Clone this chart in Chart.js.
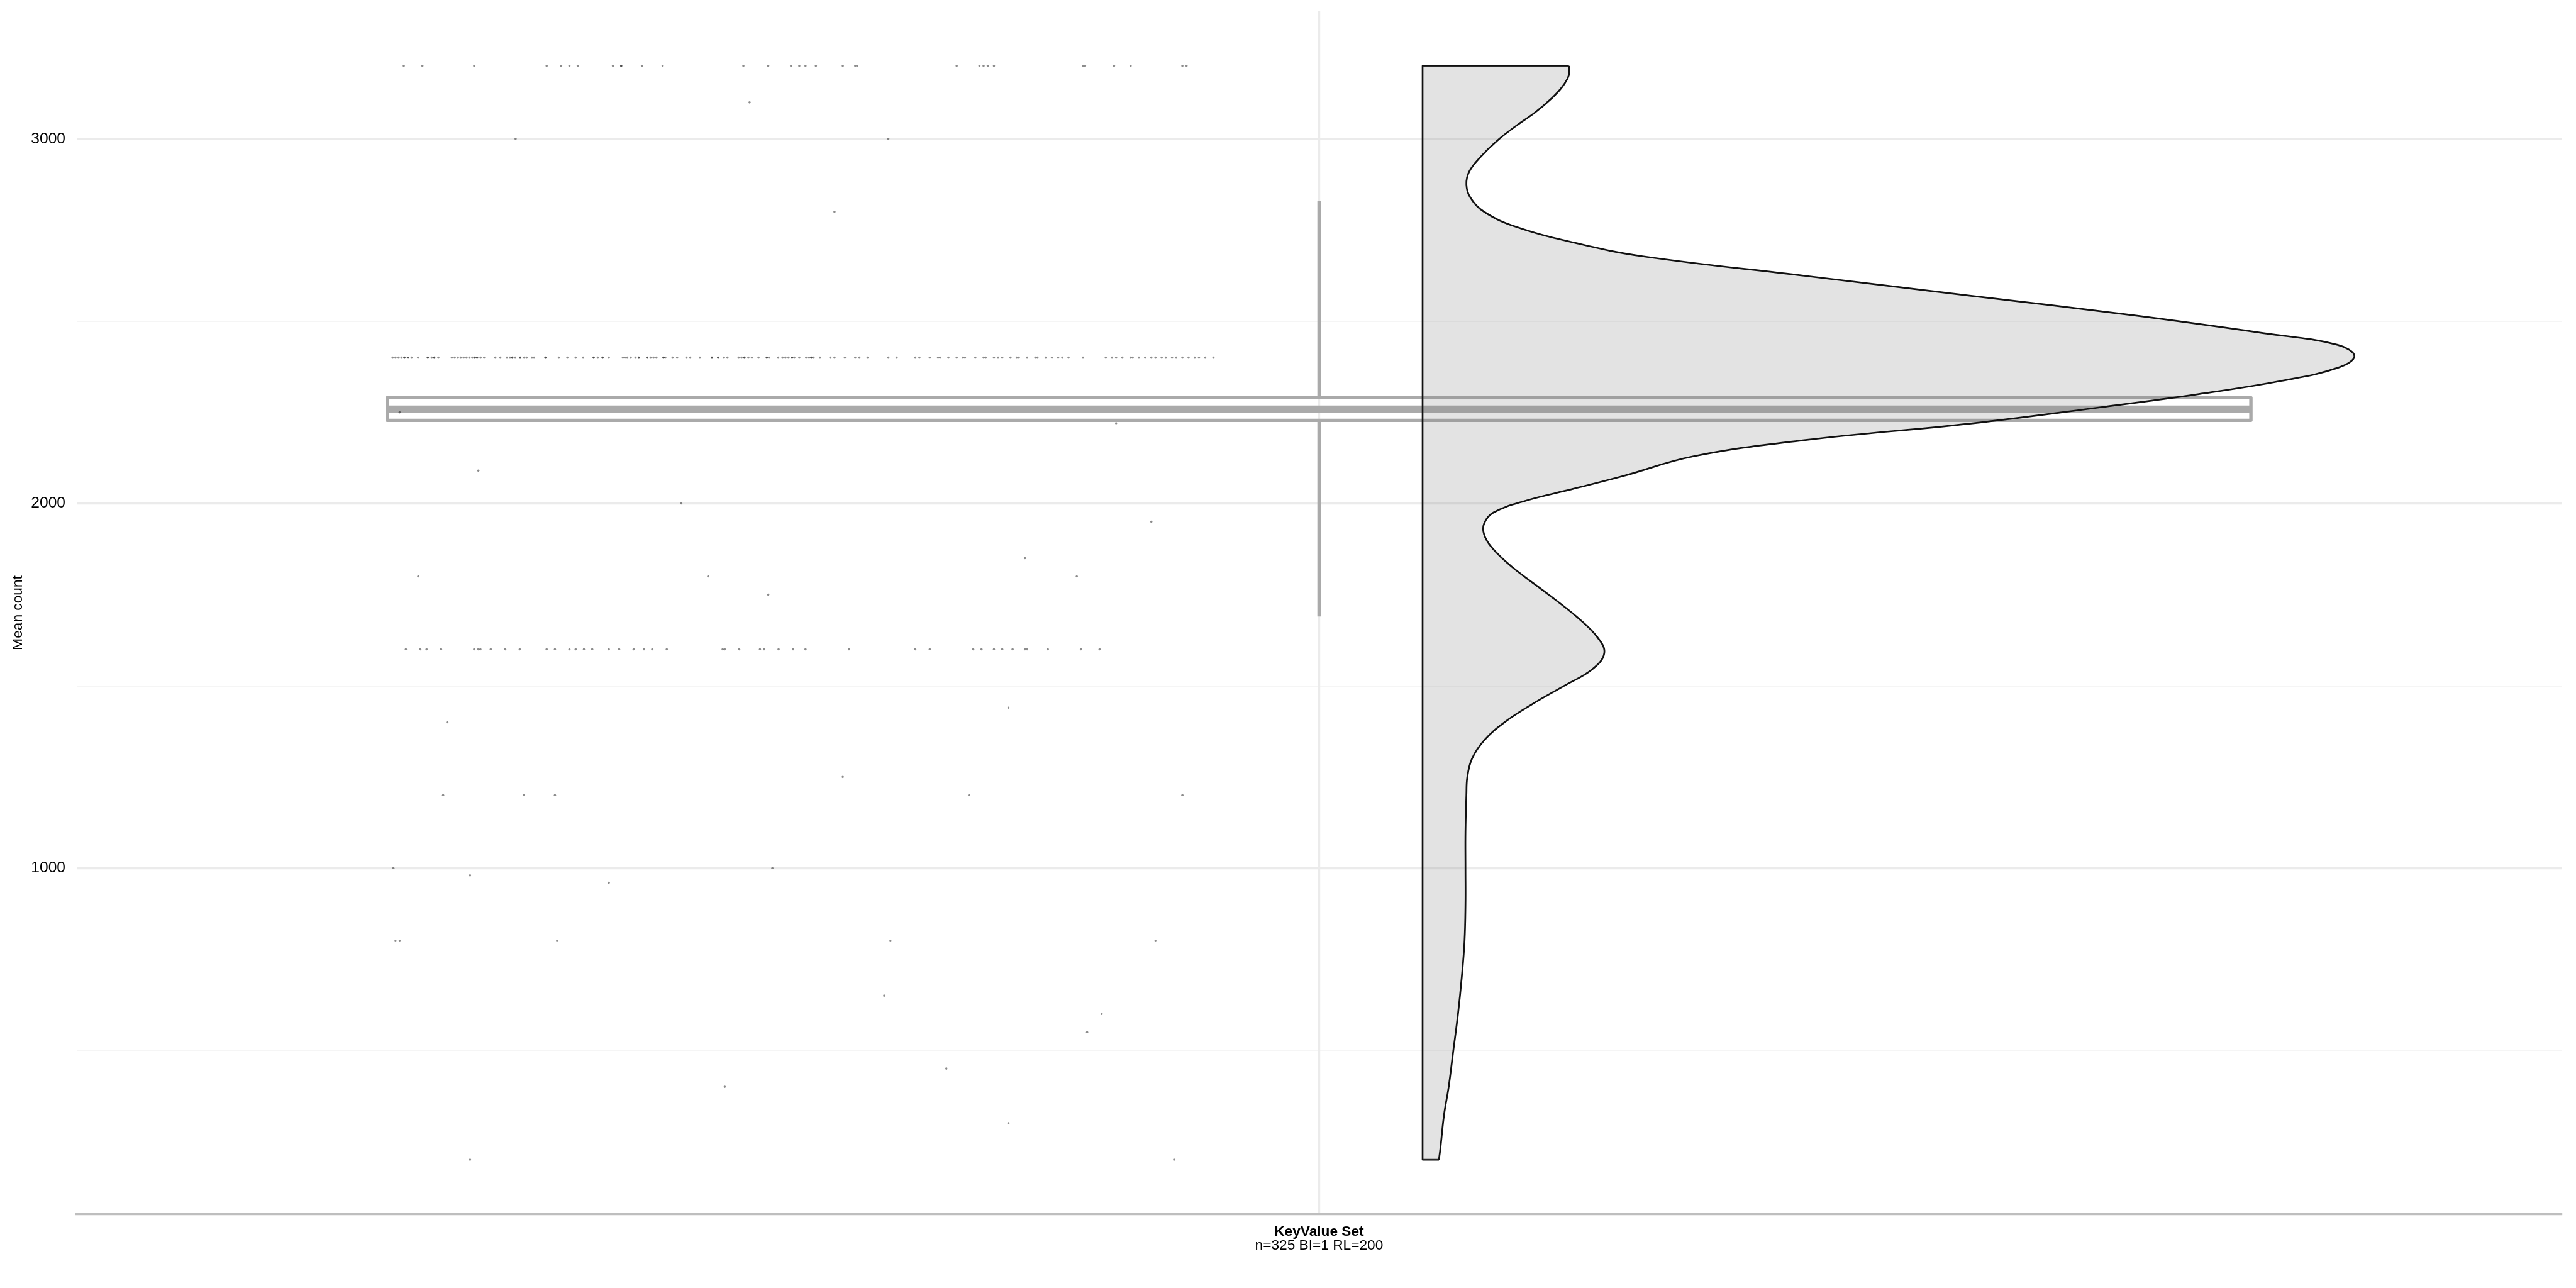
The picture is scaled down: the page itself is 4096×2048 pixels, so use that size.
<!DOCTYPE html>
<html>
<head>
<meta charset="utf-8">
<style>
  html, body { margin: 0; padding: 0; background: #ffffff; overflow: hidden; }
  canvas { display: block; }
</style>
<script src="https://cdn.jsdelivr.net/npm/chart.js@4.4.1/dist/chart.umd.min.js"></script>
</head>
<body>
<canvas id="chart" width="4096" height="2048"></canvas>
<script>
// ---------- data ----------
const categoryLabel = 'KeyValue Set';
const categorySubtitle = 'n=325 BI=1 RL=200';
const yAxisTitle = 'Mean count';
const yTickValues = [500, 1000, 1500, 2000, 2500, 3000];
const yTickLabels = ['', '1000', '', '2000', '', '3000'];

// jittered raw points (x = jitter position on the category axis)
const row3200X = [0.558,0.567,0.592,0.627,0.634,0.638,0.642,0.659,0.663,0.663,0.673,0.683,0.722,0.734,0.745,0.749,0.752,0.757,0.770,0.776,0.777,0.825,0.836,0.838,0.840,0.843,0.886,0.887,0.901,0.909,0.934,0.936];
const row2400X = [0.5526,0.5540,0.5555,0.5569,0.5583,0.5583,0.5600,0.5600,0.5618,0.5649,0.5696,0.5696,0.5715,0.5727,0.5727,0.5747,
  0.5812,0.5826,0.5841,0.5855,0.5869,0.5883,0.5897,0.5911,0.5923,0.5923,0.5934,0.5934,0.5951,0.5968,0.6022,0.6046,
  0.6078,0.6093,0.6104,0.6104,0.6118,0.6142,0.6142,0.6161,0.6173,0.6199,0.6209,0.6264,0.6264,0.6329,0.6370,0.6410,0.6446,
  0.6497,0.6497,0.6517,0.6540,0.6540,0.6570,0.6638,0.6648,0.6659,0.6676,0.6699,0.6715,0.6715,0.6755,0.6755,0.6772,0.6786,0.6800,
  0.6834,0.6834,0.6843,0.6878,0.6900,0.6945,0.6963,0.7010,0.7068,0.7068,0.7098,0.7098,0.7126,0.7143,0.7197,0.7211,0.7225,0.7225,
  0.7244,0.7261,0.7293,0.7333,0.7333,0.7344,0.7388,0.7409,0.7423,0.7438,0.7455,0.7455,0.7466,0.7490,0.7523,0.7537,0.7548,0.7548,0.7559,
  0.759,0.764,0.766,0.771,0.776,0.778,0.782,0.792,0.796,0.805,0.807,0.812,0.816,0.817,0.821,0.825,0.828,0.829,0.834,0.838,0.839,
  0.843,0.845,0.847,0.851,0.854,0.855,0.859,0.863,0.864,0.868,0.871,0.874,0.876,0.879,0.886,0.897,0.900,0.902,0.905,0.909,0.910,
  0.913,0.916,0.919,0.921,0.924,0.926,0.929,0.931,0.934,0.937,0.940,0.942,0.945,0.949];
const row1600X = [0.559,0.566,0.569,0.576,0.592,0.594,0.595,0.600,0.607,0.614,0.627,0.631,0.638,0.641,0.645,0.649,0.657,0.662,0.669,0.674,0.678,0.685,
  0.712,0.713,0.720,0.730,0.732,0.739,0.746,0.752,0.773,0.805,0.812,0.833,0.837,0.843,0.847,0.852,0.858,0.859,0.869,0.885,0.894];
const otherY = [3100,3000,3000,2800,2250,2220,2090,2000,1950,1850,1800,1800,1800,1750,1440,1400,1250,1200,1200,1200,1200,1200,
  1000,1000,980,960,800,800,800,800,800,650,600,550,450,400,300,200,200];
const otherX = [0.725,0.612,0.792,0.766,0.556,0.902,0.594,0.692,0.919,0.858,0.565,0.705,0.883,0.734,0.850,0.579,0.770,0.577,0.616,0.631,0.831,0.934,
  0.553,0.736,0.590,0.657,0.554,0.556,0.632,0.793,0.921,0.790,0.895,0.888,0.820,0.713,0.850,0.590,0.930];

// box plot summary
const boxQ1 = 2228;
const boxMedian = 2258;
const boxQ3 = 2290;
const whiskerLow = 1690;
const whiskerHigh = 2830;

// half-violin: relative density at each y value
const violinY = [200,229,323,400,500,600,700,800,900,1000,1100,1200,1250,1300,1350,1400,1450,1500,1545,1590,1635,1690,1760,1828,1880,1915,1945,1975,
  2007,2039,2075,2129,2174,2219,2264,2300,2336,2372,2404,2435,2467,2516,2570,2624,2678,2714,2759,2800,2840,2875,2910,2950,2995,3035,3073,3110,3143,3175,3200];
const violinDensity = [0.0175,0.019,0.023,0.028,0.033,0.038,0.042,0.045,0.046,0.046,0.046,0.047,0.048,0.053,0.066,0.088,0.118,0.152,0.182,0.195,0.187,0.165,0.130,0.095,0.074,0.066,0.066,0.076,
  0.110,0.160,0.215,0.290,0.411,0.587,0.728,0.833,0.921,0.982,1.0,0.982,0.903,0.763,0.587,0.411,0.236,0.165,0.100,0.066,0.051,0.047,0.050,0.062,0.080,0.100,0.121,0.138,0.150,0.157,0.157];

// ---------- geometry of the category slot ----------
const CENTER = 1;
const BOX_HALF = 0.45;
const VIOLIN_START = CENTER + 0.05;
const VIOLIN_WIDTH = 0.45;

const points = [];
row3200X.forEach(x => points.push({x, y: 3200}));
row2400X.forEach(x => points.push({x, y: 2400}));
row1600X.forEach(x => points.push({x, y: 1600}));
otherX.forEach((x, i) => points.push({x, y: otherY[i]}));

const violinCurve = violinY.map((y, i) => ({x: VIOLIN_START + VIOLIN_WIDTH * violinDensity[i], y}));
const last = violinY.length - 1;
const violinEdges = [
  {x: violinCurve[0].x, y: violinY[0]},
  {x: VIOLIN_START, y: violinY[0]},
  {x: VIOLIN_START, y: violinY[last]},
  {x: violinCurve[last].x, y: violinY[last]}
];

const boxOutline = [
  {x: CENTER - BOX_HALF, y: boxQ1}, {x: CENTER + BOX_HALF, y: boxQ1},
  {x: CENTER + BOX_HALF, y: boxQ3}, {x: CENTER - BOX_HALF, y: boxQ3},
  {x: CENTER - BOX_HALF, y: boxQ1}
];
const medianLine = [{x: CENTER - BOX_HALF, y: boxMedian}, {x: CENTER + BOX_HALF, y: boxMedian}];
const upperWhisker = [{x: CENTER, y: boxQ3}, {x: CENTER, y: whiskerHigh}];
const lowerWhisker = [{x: CENTER, y: whiskerLow}, {x: CENTER, y: boxQ1}];

const FONT = 'Liberation Sans, Arial, sans-serif';
const BOX_COLOR = '#AAAAAA';

const lineDefaults = {pointRadius: 0, pointHoverRadius: 0, fill: false, tension: 0};

new Chart(document.getElementById('chart'), {
  type: 'line',
  data: {
    datasets: [
      {label: 'points', data: points, showLine: false, pointRadius: 1.8, pointHoverRadius: 1.8,
       pointBackgroundColor: 'rgba(0,0,0,0.45)', pointBorderWidth: 0, order: 0},
      Object.assign({}, lineDefaults, {label: 'violin', data: violinCurve, borderColor: '#111111', borderWidth: 2.7,
       fill: {value: VIOLIN_START}, backgroundColor: 'rgba(123,123,123,0.21)', tension: 0.4, order: 1}),
      Object.assign({}, lineDefaults, {label: 'violinEdges', data: violinEdges, borderColor: '#111111', borderWidth: 2.7,
       borderJoinStyle: 'round', order: 1}),
      Object.assign({}, lineDefaults, {label: 'box', data: boxOutline, borderColor: BOX_COLOR, borderWidth: 5.4,
       borderJoinStyle: 'round', order: 2}),
      Object.assign({}, lineDefaults, {label: 'median', data: medianLine, borderColor: BOX_COLOR, borderWidth: 12.2,
       borderCapStyle: 'butt', order: 2}),
      Object.assign({}, lineDefaults, {label: 'whiskerHigh', data: upperWhisker, borderColor: BOX_COLOR, borderWidth: 5.4, order: 2}),
      Object.assign({}, lineDefaults, {label: 'whiskerLow', data: lowerWhisker, borderColor: BOX_COLOR, borderWidth: 5.4, order: 2})
    ]
  },
  options: {
    indexAxis: 'y',
    responsive: false,
    animation: false,
    devicePixelRatio: 1,
    events: [],
    layout: {padding: {top: 17.9, right: 23, left: 0, bottom: 0}},
    plugins: {legend: {display: false}, tooltip: {enabled: false}},
    scales: {
      x: {
        type: 'linear', position: 'bottom', min: 0.4, max: 1.6,
        afterBuildTicks: s => { s.ticks = [{value: CENTER}]; },
        afterFit: s => { s.height = 117; s.paddingLeft = 0; s.paddingRight = 0; },
        grid: {color: '#EBEBEB', lineWidth: 3.2, drawTicks: false},
        border: {display: true, color: '#BEBEBE', width: 3.2},
        ticks: {callback: () => categoryLabel, autoSkip: false, maxRotation: 0, padding: 14.4, color: '#000000',
                font: {family: FONT, size: 22.7, weight: 'bold'}},
        title: {display: true, text: categorySubtitle, color: '#000000', padding: {top: 0, bottom: 53.4},
                font: {family: FONT, size: 22.7}}
      },
      y: {
        type: 'linear', position: 'left', min: 50, max: 3350,
        afterBuildTicks: s => { s.ticks = yTickValues.map(v => ({value: v})); },
        afterFit: s => { s.width = 121.8; s.paddingTop = 0; s.paddingBottom = 0; },
        grid: {color: '#EBEBEB', drawTicks: false,
               lineWidth: c => (c.tick && c.tick.value % 1000 === 0) ? 3.2 : 1.6},
        border: {display: false},
        ticks: {callback: (v, i) => yTickLabels[i], autoSkip: false, padding: 17.8, color: '#000000',
                font: {family: FONT, size: 24.6}},
        title: {display: true, text: yAxisTitle, color: '#000000', padding: {top: 14.8, bottom: 0},
                font: {family: FONT, size: 22.7}}
      }
    }
  }
});
</script>
</body>
</html>
